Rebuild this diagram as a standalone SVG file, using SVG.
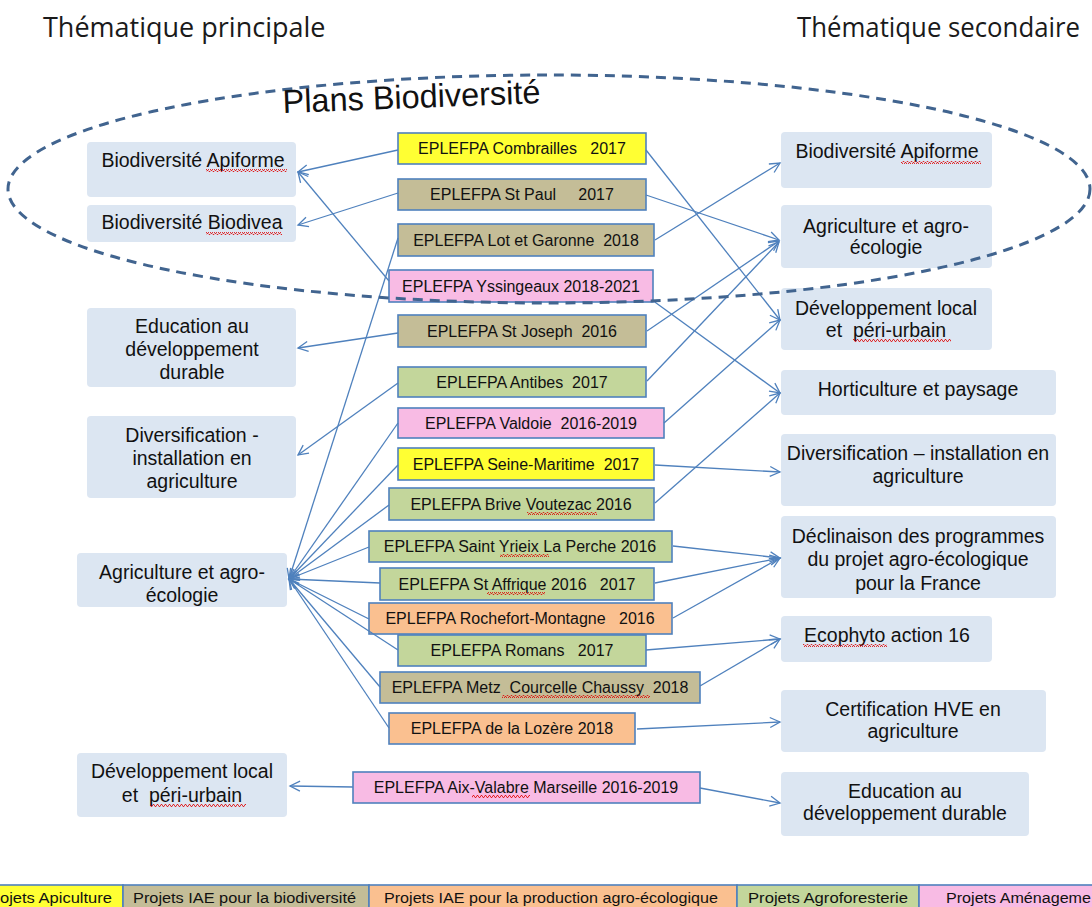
<svg xmlns="http://www.w3.org/2000/svg" width="1092" height="907" viewBox="0 0 1092 907">
<style>
.hdr{font-family:"Open Sans","Noto Sans",sans-serif;font-size:27px;fill:#1a1a1a}
.th{fill:#DCE6F2}
.tt{font-family:"Liberation Sans",Arial,sans-serif;font-size:19.5px;fill:#111;text-anchor:middle}
.cb{stroke:#4F81BD;stroke-width:1.6}
.ct{font-family:"Liberation Sans",Arial,sans-serif;font-size:16px;fill:#111;text-anchor:middle}
.lg{font-family:"Liberation Sans",Arial,sans-serif;font-size:14px;fill:#111}
.yel{fill:#FFFF33}.tan{fill:#C4BD97}.grn{fill:#C3D69B}.pnk{fill:#F8BBE4}.org{fill:#FAC090}
.cn line{stroke:#4F81BD;stroke-width:1.3;marker-end:url(#ah)}
.sq{fill:url(#squig)}
</style>
<defs>
<marker id="ah" markerUnits="userSpaceOnUse" markerWidth="14" markerHeight="12" refX="11" refY="6" orient="auto">
<path d="M1,1 L11,6 L1,11" fill="none" stroke="#4F81BD" stroke-width="1.3"/>
</marker>
<pattern id="squig" width="4" height="3" patternUnits="userSpaceOnUse">
<path d="M0,2.5 L1,0.5 L2,0.5 L3,2.5 L4,2.5" fill="none" stroke="#E00000" stroke-width="0.8"/>
</pattern>
</defs>
<rect width="1092" height="907" fill="#fff"/>

<text class="hdr" x="43" y="37">Thématique principale</text>
<text class="hdr" x="797" y="37" textLength="283" lengthAdjust="spacingAndGlyphs">Thématique secondaire</text>

<!-- left thematic nodes -->
<g id="l-apiforme"><rect class="th" x="87" y="142" width="209" height="55" rx="4"/><text class="tt" x="193" y="167">Biodiversité Apiforme</text><rect class="sq" x="206" y="169" width="81" height="3"/></g>
<g id="l-biodivea"><rect class="th" x="87" y="205" width="209" height="37" rx="4"/><text class="tt" x="192" y="229">Biodiversité Biodivea</text><rect class="sq" x="206" y="232" width="76" height="3"/></g>
<g id="l-education"><rect class="th" x="87" y="308" width="209" height="79" rx="4"/><text class="tt" x="192" y="333">Education au</text><text class="tt" x="192" y="356">développement</text><text class="tt" x="192" y="379">durable</text></g>
<g id="l-diversification"><rect class="th" x="87" y="416" width="209" height="82" rx="4"/><text class="tt" x="192" y="442">Diversification -</text><text class="tt" x="192" y="465">installation en</text><text class="tt" x="192" y="488">agriculture</text></g>
<g id="l-agriculture"><rect class="th" x="77" y="553" width="210" height="54" rx="4"/><text class="tt" x="182" y="579">Agriculture et agro-</text><text class="tt" x="182" y="602">écologie</text></g>
<g id="l-devlocal"><rect class="th" x="77" y="753" width="210" height="64" rx="4"/><text class="tt" x="182" y="778">Développement local</text><text class="tt" x="182" y="802">et&#160; péri-urbain</text><rect class="sq" x="150" y="804" width="96" height="3"/></g>

<!-- right thematic nodes -->
<g id="r-apiforme"><rect class="th" x="781" y="132" width="211" height="56" rx="4"/><text class="tt" x="887" y="158">Biodiversité Apiforme</text><rect class="sq" x="901" y="161" width="80" height="3"/></g>
<g id="r-agriculture"><rect class="th" x="781" y="205" width="211" height="63" rx="4"/><text class="tt" x="886" y="233">Agriculture et agro-</text><text class="tt" x="886" y="254">écologie</text></g>
<g id="r-devlocal"><rect class="th" x="781" y="288" width="211" height="62" rx="4"/><text class="tt" x="886" y="315">Développement local</text><text class="tt" x="886" y="337">et&#160; péri-urbain</text><rect class="sq" x="853" y="339" width="98" height="3"/></g>
<g id="r-horticulture"><rect class="th" x="781" y="370" width="275" height="45" rx="4"/><text class="tt" x="918" y="396">Horticulture et paysage</text></g>
<g id="r-diversification"><rect class="th" x="781" y="434" width="275" height="72" rx="4"/><text class="tt" x="918" y="460">Diversification – installation en</text><text class="tt" x="918" y="483">agriculture</text></g>
<g id="r-declinaison"><rect class="th" x="781" y="516" width="275" height="82" rx="4"/><text class="tt" x="918" y="543">Déclinaison des programmes</text><text class="tt" x="918" y="566">du projet agro-écologique</text><text class="tt" x="918" y="590">pour la France</text></g>
<g id="r-ecophyto"><rect class="th" x="781" y="616" width="211" height="46" rx="4"/><text class="tt" x="887" y="642">Ecophyto action 16</text><rect class="sq" x="803" y="644" width="84" height="3"/></g>
<g id="r-certification"><rect class="th" x="781" y="690" width="265" height="62" rx="4"/><text class="tt" x="913" y="716">Certification HVE en</text><text class="tt" x="913" y="738">agriculture</text></g>
<g id="r-education"><rect class="th" x="781" y="772" width="248" height="64" rx="4"/><text class="tt" x="905" y="798">Education au</text><text class="tt" x="905" y="820">développement durable</text></g>

<!-- centre project nodes -->
<g id="p-combrailles"><rect class="cb yel" x="398" y="133" width="248" height="31"/><text class="ct" x="522" y="154">EPLEFPA Combrailles&#160;&#160; 2017</text></g>
<g id="p-stpaul"><rect class="cb tan" x="398" y="179" width="248" height="31"/><text class="ct" x="522" y="200">EPLEFPA St Paul&#160;&#160;&#160;&#160; 2017</text></g>
<g id="p-lotgaronne"><rect class="cb tan" x="398" y="224" width="256" height="32"/><text class="ct" x="526" y="246">EPLEFPA Lot et Garonne&#160; 2018</text></g>
<g id="p-yssingeaux"><rect class="cb pnk" x="389" y="270" width="264" height="32"/><text class="ct" x="521" y="292">EPLEFPA Yssingeaux 2018-2021</text></g>
<g id="p-stjoseph"><rect class="cb tan" x="398" y="315" width="248" height="32"/><text class="ct" x="522" y="337">EPLEFPA St Joseph&#160; 2016</text></g>
<g id="p-antibes"><rect class="cb grn" x="398" y="367" width="248" height="30"/><text class="ct" x="522" y="388">EPLEFPA Antibes&#160; 2017</text></g>
<g id="p-valdoie"><rect class="cb pnk" x="398" y="408" width="266" height="30"/><text class="ct" x="531" y="429">EPLEFPA Valdoie&#160; 2016-2019</text></g>
<g id="p-seine"><rect class="cb yel" x="398" y="448" width="256" height="32"/><text class="ct" x="526" y="470">EPLEFPA Seine-Maritime&#160; 2017</text></g>
<g id="p-brive"><rect class="cb grn" x="389" y="488" width="265" height="32"/><text class="ct" x="521" y="510">EPLEFPA Brive Voutezac 2016</text><rect class="sq" x="527" y="512" width="70" height="3"/></g>
<g id="p-yrieix"><rect class="cb grn" x="369" y="531" width="303" height="31"/><text class="ct" x="520" y="552">EPLEFPA Saint Yrieix La Perche 2016</text><rect class="sq" x="500" y="554" width="49" height="3"/></g>
<g id="p-affrique"><rect class="cb grn" x="380" y="568" width="274" height="32"/><text class="ct" x="517" y="590">EPLEFPA St Affrique 2016&#160;&#160; 2017</text><rect class="sq" x="487" y="592" width="58" height="3"/></g>
<g id="p-rochefort"><rect class="cb org" x="369" y="603" width="303" height="31"/><text class="ct" x="520" y="624">EPLEFPA Rochefort-Montagne&#160;&#160; 2016</text></g>
<g id="p-romans"><rect class="cb grn" x="398" y="635" width="248" height="31"/><text class="ct" x="522" y="656">EPLEFPA Romans&#160;&#160; 2017</text></g>
<g id="p-metz"><rect class="cb tan" x="380" y="672" width="320" height="31"/><text class="ct" x="540" y="693">EPLEFPA Metz&#160; Courcelle Chaussy&#160; 2018</text><rect class="sq" x="502" y="695" width="148" height="3"/></g>
<g id="p-lozere"><rect class="cb org" x="389" y="713" width="246" height="31"/><text class="ct" x="512" y="734">EPLEFPA de la Lozère 2018</text></g>
<g id="p-aix"><rect class="cb pnk" x="353" y="772" width="347" height="31"/><text class="ct" x="526" y="793">EPLEFPA Aix-Valabre Marseille 2016-2019</text><rect class="sq" x="472" y="795" width="58" height="3"/></g>

<!-- connectors -->
<g id="connectors" class="cn">
<line x1="398" y1="150" x2="298" y2="172"/>
<line x1="389" y1="281" x2="298" y2="172"/>
<line x1="398" y1="193" x2="298" y2="225"/>
<line x1="398" y1="333" x2="298" y2="348"/>
<line x1="398" y1="383" x2="298" y2="455"/>
<line x1="398" y1="238" x2="289" y2="579"/>
<line x1="398" y1="423" x2="289" y2="579"/>
<line x1="398" y1="465" x2="289" y2="579"/>
<line x1="389" y1="505" x2="289" y2="579"/>
<line x1="369" y1="547" x2="289" y2="579"/>
<line x1="380" y1="583" x2="289" y2="579"/>
<line x1="369" y1="619" x2="289" y2="579"/>
<line x1="398" y1="650" x2="289" y2="579"/>
<line x1="380" y1="687" x2="289" y2="579"/>
<line x1="389" y1="728" x2="289" y2="579"/>
<line x1="353" y1="787" x2="290" y2="786"/>
<line x1="646" y1="150" x2="780" y2="320"/>
<line x1="646" y1="195" x2="779" y2="240"/>
<line x1="655" y1="240" x2="780" y2="163"/>
<line x1="652" y1="300" x2="780" y2="393"/>
<line x1="647" y1="331" x2="779" y2="241"/>
<line x1="647" y1="381" x2="779" y2="242"/>
<line x1="664" y1="423" x2="780" y2="320"/>
<line x1="655" y1="465" x2="780" y2="472"/>
<line x1="655" y1="503" x2="780" y2="393"/>
<line x1="673" y1="546" x2="780" y2="558"/>
<line x1="655" y1="583" x2="780" y2="558"/>
<line x1="673" y1="618" x2="780" y2="558"/>
<line x1="646" y1="650" x2="780" y2="639"/>
<line x1="700" y1="686" x2="780" y2="639"/>
<line x1="637" y1="729" x2="780" y2="722"/>
<line x1="700" y1="788" x2="780" y2="803"/>
</g>

<!-- Plans Biodiversité group outline -->
<g id="plans-biodiversite">
<ellipse cx="549" cy="189" rx="541" ry="114" fill="none" stroke="#41648F" stroke-width="3" stroke-dasharray="10 7"/>
<text x="283" y="113" transform="rotate(-2.2 283 113)" font-family="Liberation Sans, Arial, sans-serif" font-size="33" fill="#111" textLength="258" lengthAdjust="spacingAndGlyphs">Plans Biodiversité</text>
</g>

<!-- legend -->
<g id="legend">
<rect class="cb yel" x="-2" y="885" width="125" height="24"/>
<rect class="cb tan" x="123" y="885" width="246" height="24"/>
<rect class="cb org" x="369" y="885" width="368" height="24"/>
<rect class="cb grn" x="737" y="885" width="182" height="24"/>
<rect class="cb pnk" x="919" y="885" width="175" height="24"/>
<text class="lg" x="0" y="903" textLength="112" lengthAdjust="spacingAndGlyphs">ojets Apiculture</text>
<text class="lg" x="133" y="903" textLength="223" lengthAdjust="spacingAndGlyphs">Projets IAE pour la biodiversité</text>
<text class="lg" x="384" y="903" textLength="334" lengthAdjust="spacingAndGlyphs">Projets IAE pour la production agro-écologique</text>
<text class="lg" x="748" y="903" textLength="160" lengthAdjust="spacingAndGlyphs">Projets Agroforesterie</text>
<text class="lg" x="946" y="903" textLength="145" lengthAdjust="spacingAndGlyphs">Projets Aménageme</text>
</g>
</svg>
